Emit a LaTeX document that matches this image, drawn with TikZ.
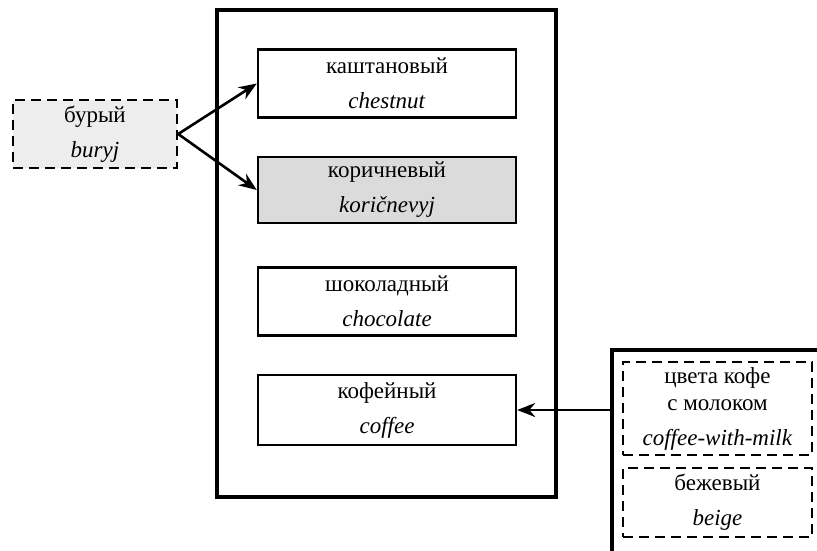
\documentclass[tikz,border=0pt]{standalone}
\usepackage{fontspec}
\setmainfont{Liberation Serif}
\usetikzlibrary{arrows.meta}
\tikzset{
  frame/.style={draw, line width=4pt},
  word/.style={draw, line width=2.4pt, minimum width=258pt, minimum height=68pt, inner sep=0pt, align=center},
  dbox/.style={draw, line width=2.4pt, dash pattern=on 10pt off 6pt, inner sep=0pt, align=center},
  conn/.style={line width=2.6pt, -{Stealth[length=18pt,width=14pt]}},
  txt/.style={font=\fontsize{23}{27}\selectfont}
}
\begin{document}
\begin{tikzpicture}[x=1pt,y=-1pt]
\useasboundingbox (0,0) rectangle (817,550);
\clip (0,0) rectangle (817,550);
% big frame
\node[frame, minimum width=339pt, minimum height=487pt, inner sep=0pt] (big) at (386.5,253.5) {};
% word boxes
\node[word, txt] (b1) at (387,83.5) {каштановый\\[8pt]\textit{chestnut}};
\node[word, txt, fill=black!14, minimum height=66pt] (b2) at (387,190) {коричневый\\[8pt]\textit{koričnevyj}};
\node[word, txt] (b3) at (387,301.5) {шоколадный\\[8pt]\textit{chocolate}};
\node[word, txt, minimum height=70pt] (b4) at (387,410) {кофейный\\[8pt]\textit{coffee}};
% left dashed
\node[dbox, txt, fill=black!7, minimum width=164pt, minimum height=68pt] (bur) at (95,134) {бурый\\[8pt]\textit{buryj}};
% right frame
\node[frame, minimum width=230pt, minimum height=230pt, inner sep=0pt, anchor=north west] (right) at (610,348) {};
\node[dbox, txt, minimum width=189pt, minimum height=93pt] (milk) at (717.5,408.5) {цвета кофе\\с молоком\\[8pt]\textit{coffee-with-milk}};
\node[dbox, txt, minimum width=189pt, minimum height=69pt] (beige) at (717.5,502.5) {бежевый\\[8pt]\textit{beige}};
% connectors
\coordinate (fork) at (bur.east);
\draw[conn] (fork) -- (b1.west);
\draw[conn] (fork) -- (b2.west);
\draw[conn] (right.west |- b4.east) -- (b4.east);
\end{tikzpicture}
\end{document}
